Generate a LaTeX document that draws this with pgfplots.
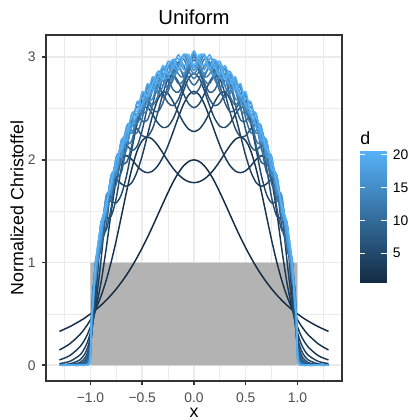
\documentclass[border=0pt]{standalone}
\usepackage{fontspec}
\setmainfont{Liberation Sans}
\usepackage{pgfplots}
\usepackage{pgfplotstable}
\pgfplotsset{compat=1.18}

\definecolor{lo}{HTML}{132B43}
\definecolor{hi}{HTML}{56B1F7}
\definecolor{grid92}{HTML}{EBEBEB}
\definecolor{gray20}{HTML}{333333}
\definecolor{gray30}{HTML}{4D4D4D}
\definecolor{gray70}{HTML}{B3B3B3}
% one colour per degree d, lo -> hi
\colorlet{c1}{lo}
\colorlet{c2}{hi!5.26!lo}
\colorlet{c3}{hi!10.53!lo}
\colorlet{c4}{hi!15.79!lo}
\colorlet{c5}{hi!21.05!lo}
\colorlet{c6}{hi!26.32!lo}
\colorlet{c7}{hi!31.58!lo}
\colorlet{c8}{hi!36.84!lo}
\colorlet{c9}{hi!42.11!lo}
\colorlet{c10}{hi!47.37!lo}
\colorlet{c11}{hi!52.63!lo}
\colorlet{c12}{hi!57.89!lo}
\colorlet{c13}{hi!63.16!lo}
\colorlet{c14}{hi!68.42!lo}
\colorlet{c15}{hi!73.68!lo}
\colorlet{c16}{hi!78.95!lo}
\colorlet{c17}{hi!84.21!lo}
\colorlet{c18}{hi!89.47!lo}
\colorlet{c19}{hi!94.74!lo}
\colorlet{c20}{hi}

\pgfplotstableread{
x d1 d2 d3 d4 d5 d6 d7 d8 d9 d10 d11 d12 d13 d14 d15 d16 d17 d18 d19 d20
-1.3 0.330 0.149 0.052 0.016 0.005 0.001 0 0 0 0 0 0 0 0 0 0 0 0 0 0
-1.2 0.376 0.209 0.094 0.038 0.014 0.005 0.002 0.001 0 0 0 0 0 0 0 0 0 0 0 0
-1.1 0.432 0.301 0.182 0.102 0.054 0.028 0.014 0.007 0.003 0.001 0.001 0 0 0 0 0 0 0 0 0
-1.05 0.464 0.365 0.259 0.178 0.119 0.077 0.049 0.031 0.019 0.011 0.007 0.004 0.002 0.001 0.001 0 0 0 0 0
-1.025 0.482 0.402 0.311 0.238 0.180 0.136 0.101 0.075 0.054 0.039 0.028 0.020 0.014 0.010 0.007 0.005 0.003 0.002 0.002 0.001
-1.01 0.493 0.427 0.348 0.284 0.233 0.193 0.160 0.133 0.110 0.091 0.076 0.062 0.051 0.042 0.034 0.028 0.022 0.018 0.015 0.012
-1.0 0.500 0.444 0.375 0.320 0.278 0.245 0.219 0.198 0.180 0.165 0.153 0.142 0.133 0.124 0.117 0.111 0.105 0.100 0.095 0.091
-0.99 0.508 0.463 0.405 0.361 0.331 0.311 0.300 0.294 0.295 0.299 0.309 0.322 0.340 0.361 0.385 0.410 0.435 0.459 0.477 0.490
-0.975 0.519 0.492 0.453 0.432 0.430 0.444 0.474 0.519 0.575 0.639 0.699 0.742 0.758 0.746 0.715 0.677 0.642 0.616 0.601 0.598
-0.95 0.539 0.544 0.547 0.583 0.656 0.764 0.891 0.996 1.032 0.996 0.926 0.863 0.828 0.824 0.851 0.899 0.955 0.998 1.009 0.987
-0.9 0.583 0.668 0.795 1.008 1.257 1.377 1.303 1.177 1.112 1.134 1.225 1.334 1.379 1.335 1.257 1.211 1.223 1.282 1.351 1.377
-0.85 0.631 0.821 1.122 1.490 1.596 1.432 1.312 1.342 1.492 1.627 1.607 1.496 1.438 1.484 1.590 1.647 1.599 1.521 1.501 1.555
-0.8 0.685 1.006 1.492 1.773 1.596 1.452 1.534 1.753 1.837 1.710 1.617 1.678 1.818 1.850 1.751 1.690 1.746 1.846 1.853 1.773
-0.75 0.744 1.220 1.811 1.812 1.582 1.633 1.901 1.993 1.826 1.766 1.906 2.032 1.948 1.849 1.907 2.029 2.015 1.916 1.914 2.012
-0.7 0.810 1.457 1.996 1.765 1.667 1.934 2.140 1.965 1.885 2.061 2.177 2.042 1.985 2.119 2.193 2.082 2.043 2.152 2.201 2.108
-0.65 0.882 1.697 2.041 1.743 1.853 2.218 2.142 1.976 2.139 2.303 2.153 2.105 2.274 2.300 2.166 2.204 2.333 2.276 2.195 2.281
-0.6 0.962 1.916 2.003 1.780 2.105 2.337 2.091 2.144 2.399 2.286 2.191 2.375 2.405 2.260 2.338 2.453 2.342 2.320 2.449 2.416
-0.55 1.049 2.085 1.942 1.883 2.348 2.303 2.132 2.403 2.448 2.263 2.420 2.518 2.352 2.427 2.551 2.419 2.434 2.564 2.472 2.443
-0.5 1.143 2.188 1.894 2.041 2.495 2.236 2.290 2.578 2.378 2.406 2.617 2.456 2.473 2.639 2.505 2.516 2.653 2.538 2.546 2.663
-0.45 1.244 2.222 1.875 2.236 2.511 2.227 2.512 2.574 2.388 2.635 2.595 2.490 2.697 2.605 2.564 2.728 2.612 2.622 2.740 2.620
-0.4 1.351 2.200 1.891 2.433 2.443 2.305 2.687 2.491 2.536 2.741 2.534 2.687 2.726 2.594 2.775 2.697 2.667 2.807 2.681 2.741
-0.35 1.463 2.142 1.942 2.587 2.360 2.459 2.724 2.468 2.738 2.675 2.617 2.829 2.647 2.771 2.798 2.691 2.859 2.747 2.782 2.858
-0.3 1.575 2.066 2.027 2.659 2.315 2.645 2.646 2.555 2.840 2.609 2.807 2.772 2.717 2.892 2.724 2.872 2.827 2.795 2.917 2.786
-0.25 1.684 1.987 2.141 2.643 2.328 2.788 2.555 2.724 2.783 2.668 2.908 2.703 2.897 2.812 2.829 2.921 2.796 2.960 2.832 2.923
-0.2 1.786 1.916 2.276 2.563 2.403 2.826 2.528 2.875 2.681 2.831 2.834 2.784 2.942 2.780 2.978 2.824 2.953 2.900 2.908 2.972
-0.15 1.874 1.857 2.417 2.458 2.529 2.758 2.591 2.905 2.659 2.954 2.742 2.947 2.834 2.916 2.920 2.888 2.987 2.877 3.024 2.888
-0.1 1.942 1.813 2.544 2.363 2.675 2.642 2.724 2.811 2.752 2.918 2.777 2.982 2.806 3.016 2.840 3.027 2.879 3.023 2.921 3.011
-0.05 1.985 1.787 2.634 2.298 2.797 2.544 2.864 2.692 2.898 2.792 2.918 2.865 2.929 2.920 2.937 2.963 2.944 2.997 2.949 3.024
0 2.000 1.778 2.667 2.276 2.844 2.508 2.926 2.642 2.972 2.729 3.002 2.791 3.023 2.836 3.039 2.871 3.051 2.899 3.060 2.922
0.05 1.985 1.787 2.634 2.298 2.797 2.544 2.864 2.692 2.898 2.792 2.918 2.865 2.929 2.920 2.937 2.963 2.944 2.997 2.949 3.024
0.1 1.942 1.813 2.544 2.363 2.675 2.642 2.724 2.811 2.752 2.918 2.777 2.982 2.806 3.016 2.840 3.027 2.879 3.023 2.921 3.011
0.15 1.874 1.857 2.417 2.458 2.529 2.758 2.591 2.905 2.659 2.954 2.742 2.947 2.834 2.916 2.920 2.888 2.987 2.877 3.024 2.888
0.2 1.786 1.916 2.276 2.563 2.403 2.826 2.528 2.875 2.681 2.831 2.834 2.784 2.942 2.780 2.978 2.824 2.953 2.900 2.908 2.972
0.25 1.684 1.987 2.141 2.643 2.328 2.788 2.555 2.724 2.783 2.668 2.908 2.703 2.897 2.812 2.829 2.921 2.796 2.960 2.832 2.923
0.3 1.575 2.066 2.027 2.659 2.315 2.645 2.646 2.555 2.840 2.609 2.807 2.772 2.717 2.892 2.724 2.872 2.827 2.795 2.917 2.786
0.35 1.463 2.142 1.942 2.587 2.360 2.459 2.724 2.468 2.738 2.675 2.617 2.829 2.647 2.771 2.798 2.691 2.859 2.747 2.782 2.858
0.4 1.351 2.200 1.891 2.433 2.443 2.305 2.687 2.491 2.536 2.741 2.534 2.687 2.726 2.594 2.775 2.697 2.667 2.807 2.681 2.741
0.45 1.244 2.222 1.875 2.236 2.511 2.227 2.512 2.574 2.388 2.635 2.595 2.490 2.697 2.605 2.564 2.728 2.612 2.622 2.740 2.620
0.5 1.143 2.188 1.894 2.041 2.495 2.236 2.290 2.578 2.378 2.406 2.617 2.456 2.473 2.639 2.505 2.516 2.653 2.538 2.546 2.663
0.55 1.049 2.085 1.942 1.883 2.348 2.303 2.132 2.403 2.448 2.263 2.420 2.518 2.352 2.427 2.551 2.419 2.434 2.564 2.472 2.443
0.6 0.962 1.916 2.003 1.780 2.105 2.337 2.091 2.144 2.399 2.286 2.191 2.375 2.405 2.260 2.338 2.453 2.342 2.320 2.449 2.416
0.65 0.882 1.697 2.041 1.743 1.853 2.218 2.142 1.976 2.139 2.303 2.153 2.105 2.274 2.300 2.166 2.204 2.333 2.276 2.195 2.281
0.7 0.810 1.457 1.996 1.765 1.667 1.934 2.140 1.965 1.885 2.061 2.177 2.042 1.985 2.119 2.193 2.082 2.043 2.152 2.201 2.108
0.75 0.744 1.220 1.811 1.812 1.582 1.633 1.901 1.993 1.826 1.766 1.906 2.032 1.948 1.849 1.907 2.029 2.015 1.916 1.914 2.012
0.8 0.685 1.006 1.492 1.773 1.596 1.452 1.534 1.753 1.837 1.710 1.617 1.678 1.818 1.850 1.751 1.690 1.746 1.846 1.853 1.773
0.85 0.631 0.821 1.122 1.490 1.596 1.432 1.312 1.342 1.492 1.627 1.607 1.496 1.438 1.484 1.590 1.647 1.599 1.521 1.501 1.555
0.9 0.583 0.668 0.795 1.008 1.257 1.377 1.303 1.177 1.112 1.134 1.225 1.334 1.379 1.335 1.257 1.211 1.223 1.282 1.351 1.377
0.95 0.539 0.544 0.547 0.583 0.656 0.764 0.891 0.996 1.032 0.996 0.926 0.863 0.828 0.824 0.851 0.899 0.955 0.998 1.009 0.987
0.975 0.519 0.492 0.453 0.432 0.430 0.444 0.474 0.519 0.575 0.639 0.699 0.742 0.758 0.746 0.715 0.677 0.642 0.616 0.601 0.598
0.99 0.508 0.463 0.405 0.361 0.331 0.311 0.300 0.294 0.295 0.299 0.309 0.322 0.340 0.361 0.385 0.410 0.435 0.459 0.477 0.490
1.0 0.500 0.444 0.375 0.320 0.278 0.245 0.219 0.198 0.180 0.165 0.153 0.142 0.133 0.124 0.117 0.111 0.105 0.100 0.095 0.091
1.01 0.493 0.427 0.348 0.284 0.233 0.193 0.160 0.133 0.110 0.091 0.076 0.062 0.051 0.042 0.034 0.028 0.022 0.018 0.015 0.012
1.025 0.482 0.402 0.311 0.238 0.180 0.136 0.101 0.075 0.054 0.039 0.028 0.020 0.014 0.010 0.007 0.005 0.003 0.002 0.002 0.001
1.05 0.464 0.365 0.259 0.178 0.119 0.077 0.049 0.031 0.019 0.011 0.007 0.004 0.002 0.001 0.001 0 0 0 0 0
1.1 0.432 0.301 0.182 0.102 0.054 0.028 0.014 0.007 0.003 0.001 0.001 0 0 0 0 0 0 0 0 0
1.2 0.376 0.209 0.094 0.038 0.014 0.005 0.002 0.001 0 0 0 0 0 0 0 0 0 0 0 0
1.3 0.330 0.149 0.052 0.016 0.005 0.001 0 0 0 0 0 0 0 0 0 0 0 0 0 0
}\christ

\begin{document}
\begin{tikzpicture}
\useasboundingbox (-33.1pt,-28.1pt) rectangle (262.1pt,274.3pt);
\begin{axis}[
  name=main,
  at={(0,0)}, anchor=south west,
  width=213.1pt, height=249.1pt, scale only axis,
  xmin=-1.43, xmax=1.43, ymin=-0.153, ymax=3.216,
  xtick={-1,-0.5,0,0.5,1}, xticklabels={−1.0,−0.5,0.0,0.5,1.0},
  ytick={0,1,2,3}, yticklabels={0,1,2,3},
  minor xtick={-1.25,-0.75,-0.25,0.25,0.75,1.25},
  minor ytick={0.5,1.5,2.5},
  grid=both,
  major grid style={grid92, line width=1.1pt},
  minor grid style={grid92, line width=0.55pt},
  axis line style={gray20, line width=1.1pt},
  tick align=outside, major tick length=3pt, minor tick length=0pt,
  tick style={gray20, line width=1.1pt},
  xtick pos=left, ytick pos=left,
  ticklabel style={font=\fontsize{10}{12}\selectfont, text=gray30},
  xticklabel style={anchor=north, inner sep=0pt},
  xticklabel shift=5.4pt,
  yticklabel style={anchor=east, inner sep=0pt},
  yticklabel shift=4.2pt,
  title={Uniform},
  title style={font=\fontsize{14.6}{17}\selectfont, at={(axis description cs:0.5,1)}, anchor=base, yshift=1.9pt, inner sep=0pt},
  xlabel={x},
  xlabel style={font=\fontsize{12.8}{15}\selectfont, at={(axis description cs:0.5,0)}, anchor=base, yshift=-26.2pt, inner sep=0pt},
]
\addplot[draw=none, fill=gray70] coordinates {(-1,0) (-1,1) (1,1) (1,0) (-1,0)};
\pgfplotsinvokeforeach{1,...,20}{
  \addplot[c#1, line width=1.05pt, smooth] table[x=x, y=d#1]{\christ};
}
\end{axis}
\node[rotate=90, anchor=base, inner sep=0pt, font=\fontsize{12.8}{15}\selectfont]
  at ([xshift=-16.3pt]main.west) {Normalized Christoffel};
% colour bar for d
\begin{axis}[
  at={(main.south east)}, anchor=south west,
  xshift=13pt, yshift=70.8pt,
  width=19.2pt, height=94.4pt, scale only axis,
  xmin=0, xmax=1, ymin=0.5, ymax=20.5,
  xtick=\empty,
  ytick={5,10,15,20}, yticklabels={5,10,15,20},
  yticklabel pos=right, ytick pos=both,
  axis line style={draw=none},
  tick align=inside, major tick length=3.84pt,
  tick style={white, line width=0.6pt},
  yticklabel style={font=\fontsize{10}{12}\selectfont, text=black, anchor=west, inner sep=0pt},
  yticklabel shift=4.3pt,
  axis on top,
  title={d},
  title style={font=\fontsize{12.8}{15}\selectfont, at={(axis description cs:0,1)}, anchor=base west, yshift=-1.3pt, inner sep=0pt},
]
\fill[bottom color=lo, top color=hi] (rel axis cs:0,0) rectangle (rel axis cs:1,1);
\end{axis}
\end{tikzpicture}
\end{document}
